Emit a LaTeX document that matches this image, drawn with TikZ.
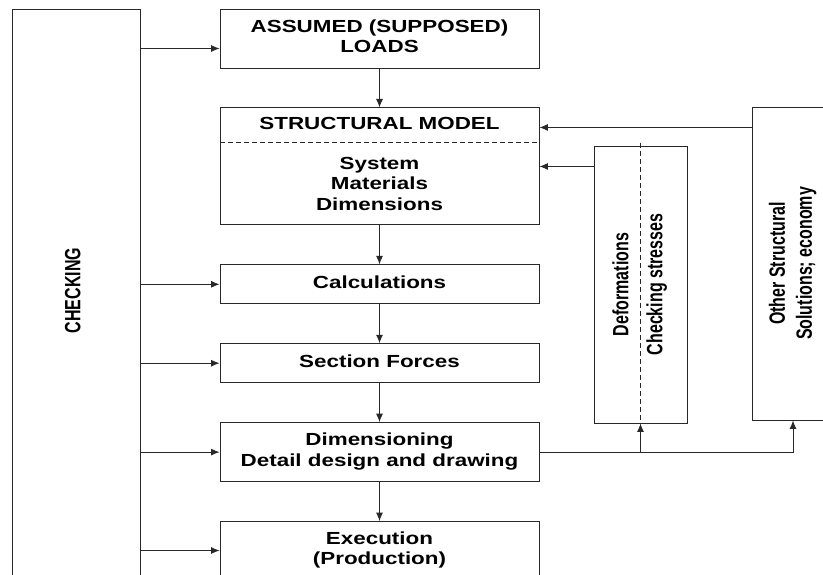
\documentclass[tikz,border=0pt]{standalone}
\usepackage{fontspec}
\setmainfont{Liberation Sans}
\usepackage{graphicx}
\usetikzlibrary{positioning,arrows.meta}
\definecolor{linegray}{RGB}{40,40,40}
\newcommand{\htxt}[1]{\scalebox{1.28}[1]{\begin{tabular}{@{}c@{}}#1\end{tabular}}}
\newcommand{\vtxt}[1]{\rotatebox{90}{\scalebox{1}[1.38]{\begin{tabular}{@{}c@{}}#1\end{tabular}}}}

\begin{document}
\begin{tikzpicture}[x=1pt,y=-1pt,node distance=39pt and 10pt,inner sep=0pt]
\tikzstyle{hfont}=[font=\bfseries\fontsize{17.5}{20.5}\selectfont]
\tikzstyle{vfont}=[font=\bfseries\fontsize{16}{19.5}\selectfont]
\tikzstyle{box}=[rectangle, hfont, draw=linegray, line width=0.9pt, minimum width=319pt]
\tikzstyle{tall}=[rectangle, vfont, draw=linegray, line width=0.9pt]
\tikzstyle{connect}=[-{Latex[length=8.5pt,width=7pt]}, line width=0.9pt, draw=linegray]
\useasboundingbox (0,0) rectangle (823,574);
\clip (0,0) rectangle (823,574);

\node[tall, minimum width=128pt, minimum height=600pt] (check) at (76,309) {};
\node[vfont] (checktxt) at (75,290.5) {\vtxt{CHECKING}};

\node[box, minimum height=59pt] (loads) at (379.5,38.5) {\htxt{ASSUMED (SUPPOSED)\\LOADS}};
\node[box, minimum height=117pt] (model) [below=of loads] {};
\node[hfont] (modelhead) at ([yshift=-18pt]model.north) {\htxt{STRUCTURAL MODEL}};
\node[hfont] (modelbody) at ([yshift=-78pt]model.north) {\htxt{System\\Materials\\Dimensions}};
\node[box, minimum height=39pt] (calc) [below=of model] {\htxt{Calculations}};
\node[box, minimum height=39pt] (forces) [below=of calc] {\htxt{Section Forces}};
\node[box, minimum height=59pt] (dim) [below=of forces] {\htxt{Dimensioning\\Detail design and drawing}};
\node[box, minimum height=58pt] (exec) [below=of dim] {\htxt{Execution\\(Production)}};

\node[tall, minimum width=93pt, minimum height=277pt] (deform) at (640.5,284.5) {};
\node[vfont] (deftxt) at ([xshift=-17.5pt]deform.center) {\vtxt{Deformations}};
\node[vfont] (stresstxt) at ([xshift=16.5pt]deform.center) {\vtxt{Checking stresses}};
\node[tall, minimum width=82pt, minimum height=313pt] (other) at (793,263.5) {\vtxt{Other Structural\\Solutions; economy}};

\coordinate (cutl) at ([yshift=-35pt]model.north west);
\coordinate (cutr) at ([yshift=-35pt]model.north east);
\draw[linegray, line width=0.8pt, dash pattern=on 5pt off 3pt] (cutl) -- (cutr);
\draw[linegray, line width=0.8pt, dash pattern=on 5pt off 3pt] ([yshift=3pt]deform.north) -- (deform.south);

\foreach \a/\b in {loads/model,model/calc,calc/forces,forces/dim,dim/exec}
  \draw[connect] (\a.south) -- (\b.north);

\coordinate (loadsin) at ([yshift=-10pt]loads.west);
\draw[connect] (check.east |- loadsin) -- (loadsin);
\foreach \n in {calc,forces,dim,exec}
  \draw[connect] (check.east |- \n.west) -- (\n.west);

\coordinate (fromother) at ([yshift=-20pt]model.north east);
\coordinate (fromdeform) at ([yshift=-59pt]model.north east);
\draw[connect] (other.west |- fromother) -- (fromother);
\draw[connect] (deform.west |- fromdeform) -- (fromdeform);
\draw[connect] (dim.east) -| (other.south);
\draw[connect] (dim.east -| deform.south) -- (deform.south);
\end{tikzpicture}
\end{document}
